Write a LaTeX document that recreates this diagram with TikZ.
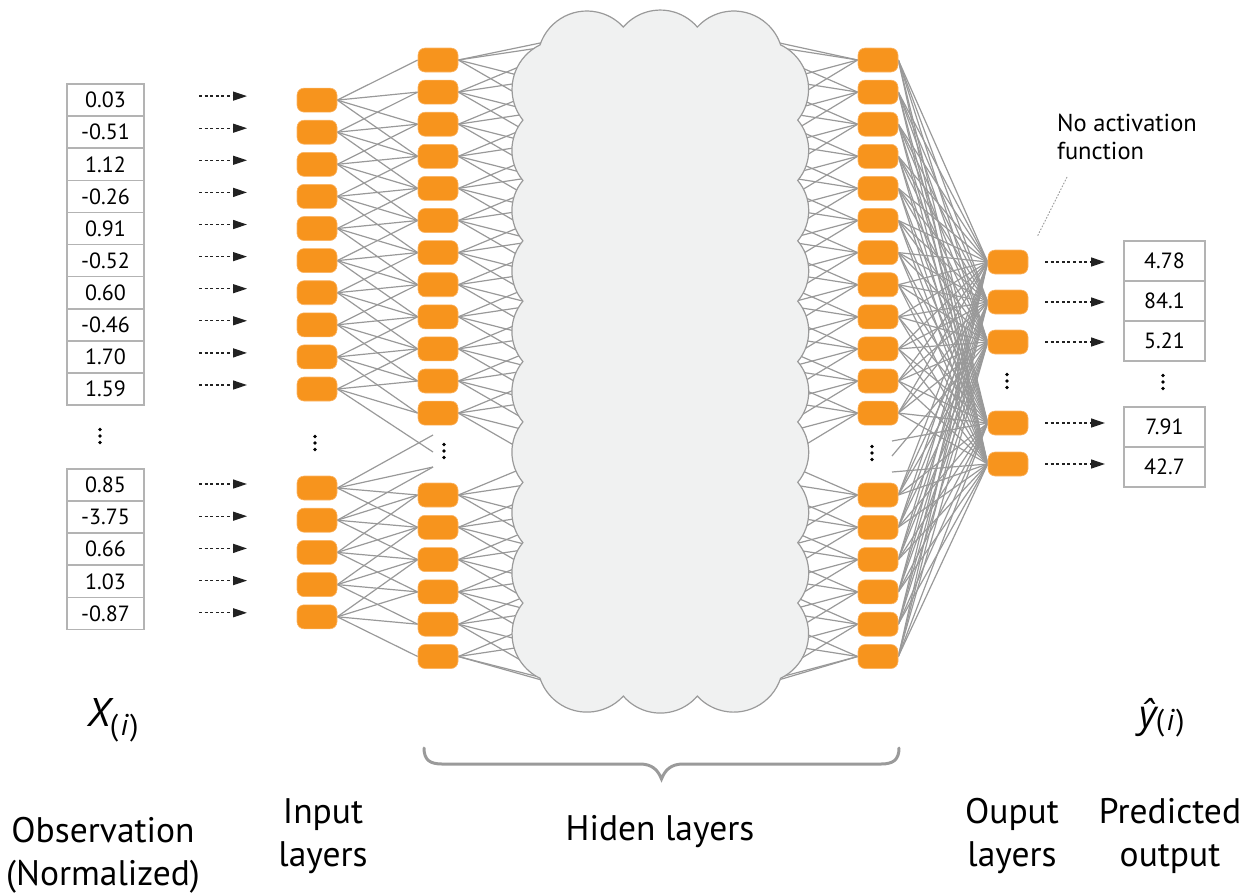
\documentclass[tikz,border=0pt]{standalone}
\usepackage{fontspec}
\setmainfont{PT Sans}
\newfontfamily\symfont{Open Sans}
\usetikzlibrary{arrows.meta,calc}
\definecolor{neuron}{HTML}{F7941D}
\definecolor{neuronrim}{HTML}{FBB566}
\definecolor{wirec}{HTML}{999999}
\definecolor{cloudfill}{HTML}{F0F1F1}
\definecolor{cloudline}{HTML}{9A9A9A}
\definecolor{cellline}{HTML}{B3B3B3}
\definecolor{feedc}{HTML}{222222}
\pgfdeclarelayer{wires}
\pgfdeclarelayer{cloudlayer}
\pgfsetlayers{wires,cloudlayer,main}
\tikzset{
  vdots/.pic={\fill (0,6.5) circle (1.9); \fill (0,0) circle (1.9); \fill (0,-6.5) circle (1.9);},
}
\begin{document}
\begin{tikzpicture}[x=1pt,y=1pt,
  neuron/.style={draw=neuronrim, line width=0.6pt, fill=neuron, rounded corners=7pt,
    minimum width=40pt, minimum height=24pt, inner sep=0pt},
  wire/.style={draw=wirec, line width=1.2pt},
  cell/.style={draw=cellline, line width=1.6pt, minimum width=77pt, minimum height=32.1pt,
    inner sep=0pt, font=\fontsize{22}{22}\selectfont},
  ocell/.style={cell, minimum width=81pt, minimum height=40pt},
  feed/.style={draw=feedc, line width=1.3pt, dash pattern=on 3pt off 2.6pt,
    -{Triangle[length=14pt,width=9pt]}},
  caption/.style={font=\fontsize{35.5}{43}\selectfont, align=center},
]
\useasboundingbox (0,0) rectangle (1250,-895);

% ---------- observation column ----------
\foreach \v [count=\k from 0] in {0.03,-0.51,1.12,-0.26,0.91,-0.52,0.60,-0.46,1.70,1.59}{
  \node[cell] (xa\k) at (105.5,-100.1-32.1*\k) {\v};
}
\foreach \v [count=\k from 0] in {0.85,-3.75,0.66,1.03,-0.87}{
  \node[cell] (xb\k) at (105.5,-485-32.1*\k) {\v};
}
\pic at (100,-436) {vdots};

% ---------- input layer ----------
\foreach \k in {0,...,9}{
  \node[neuron] (ina\k) at (317,-100.1-32.1*\k) {};
  \coordinate (fsa\k) at (199,-96.1-32.1*\k);
  \coordinate (fea\k) at (247,-96.1-32.1*\k);
  \draw[feed] (fsa\k) -- (fea\k);
}
\foreach \k in {0,...,4}{
  \node[neuron] (inb\k) at (317,-488-32.2*\k) {};
  \coordinate (fsb\k) at (199,-484-32.2*\k);
  \coordinate (feb\k) at (247,-484-32.2*\k);
  \draw[feed] (fsb\k) -- (feb\k);
}
\pic at (315,-443) {vdots};

% ---------- hidden layers (first and last) ----------
\def\hiddenrows{a0/60,a1/92.1,a2/124.2,a3/156.3,a4/188.4,a5/220.5,a6/252.6,a7/284.7,a8/316.8,a9/348.9,a10/381,a11/413.1,b0/495,b1/527.3,b2/559.6,b3/591.9,b4/624.2,b5/656.5}
\foreach \n/\y in \hiddenrows{
  \node[neuron] (h\n) at (438,-\y) {};
  \node[neuron] (g\n) at (878,-\y) {};
}
\pic at (444,-451) {vdots};
\pic at (872,-453) {vdots};
\coordinate (hgapu) at (433,-435);
\coordinate (hgapm) at (433,-452);
\coordinate (hgapl) at (433,-467);
\coordinate (ggapu) at (892,-441);
\coordinate (ggapm) at (892,-456);
\coordinate (ggapl) at (892,-472);

% ---------- output layer ----------
\foreach \y [count=\k] in {262,302,342,423,464}{
  \node[neuron] (o\k) at (1008,-\y) {};
  \coordinate (os\k) at (1045,-\y);
  \coordinate (oe\k) at (1105,-\y);
  \draw[feed] (os\k) -- (oe\k);
}
\pic at (1007,-381) {vdots};

% ---------- predicted values ----------
\foreach \v/\y [count=\k] in {4.78/261,84.1/301,5.21/341,7.91/427,42.7/467}{
  \node[ocell] (yv\k) at (1164.5,-\y) {\v};
}
\pic at (1163,-382) {vdots};

% ---------- weights ----------
\begin{pgfonlayer}{wires}
  \foreach \i in {0,...,9}{
    \foreach \m in {0,...,3}{
      \pgfmathtruncatemacro\j{\i+\m}
      \ifnum\j<12 \draw[wire] (ina\i.east) -- (ha\j.west);
      \else \draw[wire] (ina\i.east) -- (hgapm); \fi
    }
  }
  \foreach \i in {0,...,4}{
    \foreach \m in {-2,...,1}{
      \pgfmathtruncatemacro\j{\i+\m}
      \ifnum\j<0
        \ifnum\j=-1 \draw[wire] (inb\i.east) -- (hgapl);
        \else \draw[wire] (inb\i.east) -- (hgapu); \fi
      \else \draw[wire] (inb\i.east) -- (hb\j.west); \fi
    }
  }
  \foreach \n/\y in \hiddenrows{
    \foreach \m/\o in {0/-36,1/-13,2/22,3/50}{
      \pgfmathsetmacro\t{min(max(\y+\o,42),681)}
      \coordinate (lc\n\m) at (545,-\t);
      \coordinate (rc\n\m) at (775,-\t);
      \draw[wire] (h\n.east) -- (lc\n\m);
      \draw[wire] (rc\n\m) -- (g\n.west);
    }
    \foreach \k in {1,...,5}{
      \draw[wire] (g\n.east) -- (o\k.west);
    }
  }
  \draw[wire] (ggapu) -- (o4.west);
  \draw[wire] (ggapm) -- (o3.west);
  \draw[wire] (ggapl) -- (o5.west);
\end{pgfonlayer}

% ---------- hidden block (cloud) ----------
\begin{pgfonlayer}{cloudlayer}
\draw[fill=cloudfill, draw=cloudline, line width=1.2pt]
  (540,-44.9)
  arc[start angle=161.7, end angle=42.5, radius=49.4pt]
  arc[start angle=139.3, end angle=40.7, radius=48.8pt]
  arc[start angle=137.5, end angle=18.3, radius=49.4pt]
  arc[start angle=64.4, end angle=-38.8, radius=49.2pt]
  \foreach \s in {1,...,8}{ arc[start angle=40.06, end angle=-40.06, radius=46.9pt] }
  arc[start angle=38.8, end angle=-64.4, radius=49.2pt]
  arc[start angle=-18.3, end angle=-137.5, radius=49.4pt]
  arc[start angle=-40.7, end angle=-139.3, radius=48.8pt]
  arc[start angle=-42.5, end angle=-161.7, radius=49.4pt]
  arc[start angle=244.4, end angle=141.2, radius=49.2pt]
  \foreach \s in {1,...,8}{ arc[start angle=220.06, end angle=139.94, radius=46.9pt] }
  arc[start angle=218.8, end angle=115.6, radius=49.2pt]
  -- cycle;
\end{pgfonlayer}

% ---------- annotation ----------
\node[anchor=north west, align=left, inner sep=0pt, font=\fontsize{24.5}{28}\selectfont]
  (note) at (1057,-114) {No activation\\function};
\coordinate (notefoot) at (1067,-177);
\coordinate (notetip) at (1037,-237);
\draw[draw=wirec, line width=0.9pt, dash pattern=on 1.6pt off 1.6pt] (notefoot) -- (notetip);

% ---------- brace under the hidden layers ----------
\draw[draw=cloudline, line width=3pt, line cap=round]
  (424,-748) .. controls (424,-760) and (430,-764) .. (442,-764) -- (640,-764)
  .. controls (652,-764) and (658,-770) .. (661.5,-779)
  .. controls (665,-770) and (671,-764) .. (683,-764) -- (881,-764)
  .. controls (893,-764) and (899,-760) .. (899,-748);

% ---------- symbols and captions ----------
\node (xsym) at (113,-720) {\fontsize{40}{40}\selectfont\itshape X\kern-1pt\raisebox{-9pt}{\fontsize{30}{30}\selectfont\upshape(\kern2pt\itshape i\upshape\kern2pt)}};
\node (ysym) at (1162,-718) {{\symfont\fontsize{38}{38}\selectfont\itshape ŷ}\kern-1pt\raisebox{-3pt}{\fontsize{30}{30}\selectfont\upshape(\kern2pt\itshape i\upshape\kern2pt)}};
\node[caption] (obs) at (103,-855) {Observation\\(Normalized)};
\node[caption] (inp) at (323,-836) {Input\\layers};
\node[caption] (hid) at (660,-832) {Hiden layers};
\node[caption] (outl) at (1012,-836) {Ouput\\layers};
\node[caption] (pred) at (1170,-836) {Predicted\\output};
\end{tikzpicture}
\end{document}
